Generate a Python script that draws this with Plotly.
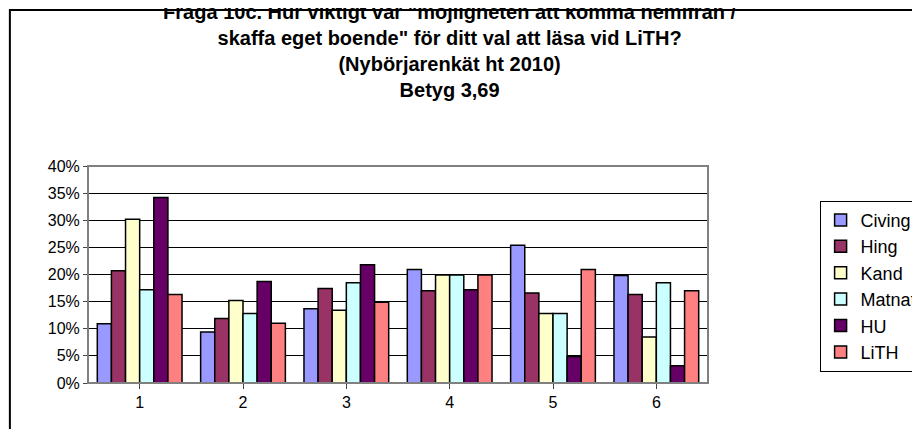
import plotly.graph_objects as go

categories = ["1", "2", "3", "4", "5", "6"]
series_names = ["Civing", "Hing", "Kand", "Matnat", "HU", "LiTH"]
civing = [10.9, 9.4, 13.7, 20.9, 25.4, 19.8]
hing = [20.7, 11.9, 17.4, 17.0, 16.6, 16.3]
kand = [30.2, 15.2, 13.4, 19.9, 12.8, 8.5]
matnat = [17.2, 12.8, 18.5, 19.9, 12.8, 18.5]
hu = [34.2, 18.7, 21.8, 17.2, 4.9, 3.2]
lith = [16.3, 11.0, 14.9, 19.9, 20.9, 17.0]
colors = ["#9999FF", "#993366", "#FFFFCC", "#CCFFFF", "#660066", "#FF8080"]

fig = go.Figure()
for name, vals, col in zip(series_names, [civing, hing, kand, matnat, hu, lith], colors):
    fig.add_trace(go.Bar(x=categories, y=vals, name=name,
                         marker=dict(color=col, line=dict(color="black", width=1.5))))

fig.update_layout(
    width=920, height=429,
    paper_bgcolor="white", plot_bgcolor="white",
    font=dict(family="Liberation Sans, Arial", size=16, color="black"),
    title=dict(text="<b>Fråga 10c. Hur viktigt var \"möjligheten att komma hemifrån /<br>skaffa eget boende\" för ditt val att läsa vid LiTH?<br>(Nybörjarenkät ht 2010)<br>Betyg 3,69</b>",
               x=0.48, xanchor="center", y=0.975, yanchor="top", font=dict(size=20)),
    barmode="group", bargap=0.18, bargroupgap=0,
    margin=dict(l=80, r=220, t=158, b=54, autoexpand=False),
    legend=dict(x=1.18, y=0.84, xanchor="left", yanchor="top", bordercolor="black", borderwidth=1,
                font=dict(size=18), tracegroupgap=0, itemwidth=30),
    shapes=[dict(type="rect", xref="paper", yref="paper", x0=-0.126, x1=1.35, y0=-0.235, y1=1.719,
                 line=dict(color="black", width=2))],
)
fig.update_yaxes(range=[0, 40], dtick=5, ticksuffix="%", showgrid=True, gridcolor="black", gridwidth=1,
                 showline=True, linecolor="black", ticks="outside", ticklen=4, zeroline=False)
fig.update_xaxes(showline=True, linecolor="black", ticks="outside", mirror=False)
fig.add_shape(type="rect", xref="paper", yref="paper", x0=0, x1=1, y0=0, y1=1,
              line=dict(color="gray", width=2))

fig.write_html("out.html")
